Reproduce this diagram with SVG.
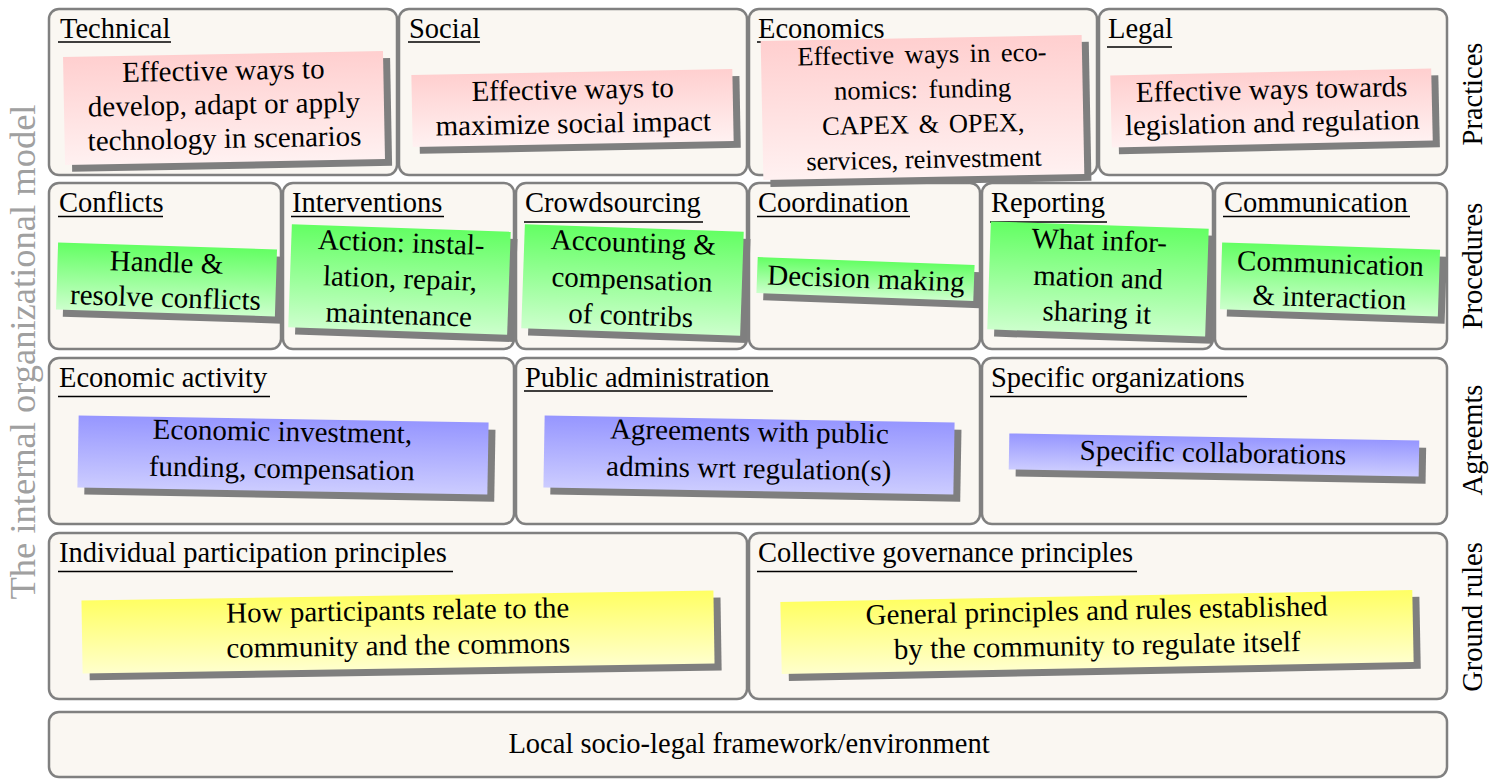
<svg xmlns="http://www.w3.org/2000/svg" width="1496" height="779" viewBox="0 0 1496 779">
<defs>
<linearGradient id="pink" x1="0" y1="0" x2="0" y2="1"><stop offset="0" stop-color="#ffcfcf"/><stop offset="1" stop-color="#fff1f1"/></linearGradient>
<linearGradient id="green" x1="0" y1="0" x2="0" y2="1"><stop offset="0" stop-color="#63ff63"/><stop offset="1" stop-color="#ccffcc"/></linearGradient>
<linearGradient id="blue" x1="0" y1="0" x2="0" y2="1"><stop offset="0" stop-color="#9696ff"/><stop offset="1" stop-color="#ccccff"/></linearGradient>
<linearGradient id="yellow" x1="0" y1="0" x2="0" y2="1"><stop offset="0" stop-color="#ffff63"/><stop offset="1" stop-color="#ffffcc"/></linearGradient>
<style>
text{font-family:"Liberation Serif",Tinos,"Times New Roman",Times,"DejaVu Serif","Noto Serif",serif}
.box{fill:#faf7f2;stroke:#808080;stroke-width:2.5}
.t{font-size:28.5px;fill:#000}
.ul{stroke:#000;stroke-width:1.3}
.n{font-size:29px;fill:#000;text-anchor:middle}
.ne{font-size:26.5px;fill:#000;text-anchor:middle}
.sh{fill:#7f7f7f}
.side{font-size:28.5px;fill:#000;text-anchor:middle}
.big{font-size:36.5px;fill:#a0a0a0;text-anchor:middle}
</style>
</defs>

<!-- Left vertical label -->
<text class="big" transform="translate(35 352) rotate(-90)">The internal organizational model</text>

<!-- Right row labels -->
<text class="side" transform="translate(1482 94) rotate(-90)">Practices</text>
<text class="side" transform="translate(1482 266) rotate(-90)">Procedures</text>
<text class="side" transform="translate(1482 440) rotate(-90)">Agreemts</text>
<text class="side" transform="translate(1482 617) rotate(-90)">Ground rules</text>

<!-- Row 1: Practices -->
<g id="cell-technical"><rect class="box" x="49" y="9" width="348" height="166" rx="10"/><text class="t" x="60" y="37.5">Technical</text><line class="ul" x1="58" y1="42" x2="171" y2="42"/></g>
<g id="cell-social"><rect class="box" x="399" y="9" width="348" height="166" rx="10"/><text class="t" x="409" y="37.5">Social</text><line class="ul" x1="408" y1="42" x2="480" y2="42"/></g>
<g id="cell-economics"><rect class="box" x="749" y="9" width="348" height="166" rx="10"/><text class="t" x="758" y="37.5">Economics</text><line class="ul" x1="757" y1="42" x2="886" y2="42"/></g>
<g id="cell-legal"><rect class="box" x="1099" y="9" width="348" height="166" rx="10"/><text class="t" x="1108" y="37.5">Legal</text><line class="ul" x1="1107" y1="47" x2="1172" y2="47"/></g>

<!-- Row 2: Procedures -->
<g id="cell-conflicts"><rect class="box" x="49" y="183" width="232" height="166" rx="10"/><text class="t" x="59" y="212">Conflicts</text><line class="ul" x1="58" y1="216.5" x2="163" y2="216.5"/></g>
<g id="cell-interventions"><rect class="box" x="283" y="183" width="231" height="166" rx="10"/><text class="t" x="292" y="212">Interventions</text><line class="ul" x1="291" y1="216.5" x2="444" y2="216.5"/></g>
<g id="cell-crowdsourcing"><rect class="box" x="516" y="183" width="231" height="166" rx="10"/><text class="t" x="525" y="212">Crowdsourcing</text><line class="ul" x1="524" y1="222" x2="703" y2="222"/></g>
<g id="cell-coordination"><rect class="box" x="749" y="183" width="231" height="166" rx="10"/><text class="t" x="758" y="212">Coordination</text><line class="ul" x1="757" y1="216.5" x2="910" y2="216.5"/></g>
<g id="cell-reporting"><rect class="box" x="982" y="183" width="231" height="166" rx="10"/><text class="t" x="991" y="212">Reporting</text><line class="ul" x1="990" y1="222" x2="1107" y2="222"/></g>
<g id="cell-communication"><rect class="box" x="1215" y="183" width="232" height="166" rx="10"/><text class="t" x="1224" y="212">Communication</text><line class="ul" x1="1223" y1="216.5" x2="1410" y2="216.5"/></g>

<!-- Row 3: Agreements -->
<g id="cell-economic-activity"><rect class="box" x="49" y="358" width="465" height="166" rx="10"/><text class="t" x="59" y="386.5">Economic activity</text><line class="ul" x1="58" y1="396.5" x2="270" y2="396.5"/></g>
<g id="cell-public-admin"><rect class="box" x="516" y="358" width="464" height="166" rx="10"/><text class="t" x="525" y="386.5">Public administration</text><line class="ul" x1="524" y1="391" x2="773" y2="391"/></g>
<g id="cell-specific-orgs"><rect class="box" x="982" y="358" width="465" height="166" rx="10"/><text class="t" x="991" y="386.5">Specific organizations</text><line class="ul" x1="990" y1="396.5" x2="1247" y2="396.5"/></g>

<!-- Row 4: Ground rules -->
<g id="cell-individual"><rect class="box" x="49" y="533" width="698" height="166" rx="10"/><text class="t" x="59" y="561.5">Individual participation principles</text><line class="ul" x1="58" y1="571.5" x2="453" y2="571.5"/></g>
<g id="cell-collective"><rect class="box" x="749" y="533" width="698" height="166" rx="10"/><text class="t" x="758" y="561.5">Collective governance principles</text><line class="ul" x1="757" y1="571.5" x2="1137" y2="571.5"/></g>

<!-- Row 5 -->
<g id="cell-local"><rect class="box" x="49" y="712" width="1398" height="65" rx="10"/><text class="t" x="749" y="753" text-anchor="middle">Local socio-legal framework/environment</text></g>

<!-- Sticky notes -->
<g id="note-technical" transform="rotate(-1.07 224 108)"><rect class="sh" x="71" y="61" width="320" height="108"/><rect fill="url(#pink)" x="64" y="54" width="320" height="108"/><text class="n"><tspan x="224" y="80">Effective ways to</tspan><tspan x="224" y="114">develop, adapt or apply</tspan><tspan x="224" y="148">technology in scenarios</tspan></text></g>
<g id="note-social" transform="rotate(-1.07 572.5 108)"><rect class="sh" x="419" y="79" width="321" height="72"/><rect fill="url(#pink)" x="412" y="72" width="321" height="72"/><text class="n"><tspan x="573" y="99">Effective ways to</tspan><tspan x="573" y="133">maximize social impact</tspan></text></g>
<g id="note-economics" transform="rotate(-1.1 922.5 107.5)"><rect class="sh" x="769" y="45" width="321" height="139"/><rect fill="url(#pink)" x="762" y="38" width="321" height="139"/><text class="ne"><tspan x="923" y="63" word-spacing="4">Effective ways in eco-</tspan><tspan x="923" y="98" word-spacing="4">nomics: funding</tspan><tspan x="923" y="133" word-spacing="3">CAPEX &amp; OPEX,</tspan><tspan x="923" y="168">services, reinvestment</tspan></text></g>
<g id="note-legal" transform="rotate(-1.25 1271.5 108)"><rect class="sh" x="1118" y="79" width="321" height="72"/><rect fill="url(#pink)" x="1111" y="72" width="321" height="72"/><text class="n"><tspan x="1272" y="99">Effective ways towards</tspan><tspan x="1272" y="132">legislation and regulation</tspan></text></g>

<g id="note-conflicts" transform="rotate(1.8 166.5 279.5)"><rect class="sh" x="64" y="253" width="219" height="67"/><rect fill="url(#green)" x="57" y="246" width="219" height="67"/><text class="n"><tspan x="166" y="272">Handle &amp;</tspan><tspan x="166" y="307">resolve conflicts</tspan></text></g>
<g id="note-interventions" transform="rotate(2 399.5 279.5)"><rect class="sh" x="297" y="235" width="219" height="103"/><rect fill="url(#green)" x="290" y="228" width="219" height="103"/><text class="n"><tspan x="400" y="252">Action: instal-</tspan><tspan x="400" y="288">lation, repair,</tspan><tspan x="400" y="324">maintenance</tspan></text></g>
<g id="note-crowdsourcing" transform="rotate(2 632.5 280)"><rect class="sh" x="530" y="235" width="219" height="104"/><rect fill="url(#green)" x="523" y="228" width="219" height="104"/><text class="n"><tspan x="632" y="252">Accounting &amp;</tspan><tspan x="632" y="289">compensation</tspan><tspan x="632" y="325">of contribs</tspan></text></g>
<g id="note-coordination" transform="rotate(2.1 865.5 279)"><rect class="sh" x="764" y="268" width="217" height="36"/><rect fill="url(#green)" x="757" y="261" width="217" height="36"/><text class="n"><tspan x="866" y="288">Decision making</tspan></text></g>
<g id="note-reporting" transform="rotate(1.9 1098 279)"><rect class="sh" x="996" y="232" width="218" height="108"/><rect fill="url(#green)" x="989" y="225" width="218" height="108"/><text class="n"><tspan x="1098" y="250">What infor-</tspan><tspan x="1098" y="287">mation and</tspan><tspan x="1098" y="322">sharing it</tspan></text></g>
<g id="note-communication" transform="rotate(1.9 1330 279.5)"><rect class="sh" x="1228" y="253" width="218" height="67"/><rect fill="url(#green)" x="1221" y="246" width="218" height="67"/><text class="n"><tspan x="1330" y="273">Communication</tspan><tspan x="1330" y="307">&amp; interaction</tspan></text></g>

<g id="note-economic-investment" transform="rotate(1 283 455)"><rect class="sh" x="85" y="426" width="410" height="72"/><rect fill="url(#blue)" x="78" y="419" width="410" height="72"/><text class="n"><tspan x="282" y="441">Economic investment,</tspan><tspan x="282" y="478">funding, compensation</tspan></text></g>
<g id="note-public-admin" transform="rotate(1 749 455)"><rect class="sh" x="551" y="426" width="410" height="72"/><rect fill="url(#blue)" x="544" y="419" width="410" height="72"/><text class="n"><tspan x="749" y="441">Agreements with public</tspan><tspan x="749" y="478">admins wrt regulation(s)</tspan></text></g>
<g id="note-specific" transform="rotate(1 1214 455)"><rect class="sh" x="1016" y="444" width="410" height="36"/><rect fill="url(#blue)" x="1009" y="437" width="410" height="36"/><text class="n"><tspan x="1213" y="462">Specific collaborations</tspan></text></g>

<g id="note-individual" transform="rotate(-0.9 398 632)"><rect class="sh" x="89" y="602.5" width="632" height="73"/><rect fill="url(#yellow)" x="82" y="595.5" width="632" height="73"/><text class="n"><tspan x="398" y="620">How participants relate to the</tspan><tspan x="398" y="655">community and the commons</tspan></text></g>
<g id="note-collective" transform="rotate(-1.1 1097 632)"><rect class="sh" x="788" y="603" width="632" height="72"/><rect fill="url(#yellow)" x="781" y="596" width="632" height="72"/><text class="n"><tspan x="1097" y="620">General principles and rules established</tspan><tspan x="1097" y="655">by the community to regulate itself</tspan></text></g>

<g id="connectors"/>
</svg>
